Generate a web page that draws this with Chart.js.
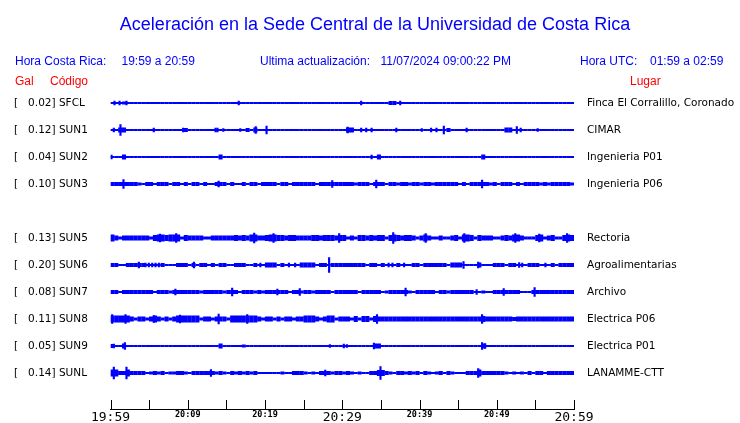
<!DOCTYPE html>
<html><head><meta charset="utf-8">
<script src="https://cdn.jsdelivr.net/npm/chart.js@4.4.1/dist/chart.umd.min.js"></script>
<style>html,body{margin:0;padding:0;background:#fff}#wrap{width:740px;height:423px;position:relative}</style>
</head><body><div id="wrap"><canvas id="c"></canvas></div>
<script>
// ---- data ----
const codes  = ['SFCL','SUN1','SUN2','SUN3','','SUN5','SUN6','SUN7','SUN8','SUN9','SUNL'];
const pga    = ['0.02','0.12','0.04','0.10','','0.13','0.20','0.08','0.11','0.05','0.14'];
const places = ['Finca El Corralillo, Coronado','CIMAR','Ingenieria P01','Ingenieria P06','','Rectoria','Agroalimentarias','Archivo','Electrica P06','Electrica P01','LANAMME-CTT'];
const timeLabels = ['19:59','','20:09','','20:19','','20:29','','20:39','','20:49','','20:59'];
const minutesSpan = 60;
const binMinutes = 0.5;

// envelope half-amplitudes per 30 s bin (counts)
const noise_SFCL = [1,1,1,1.5,1,1,1,1,1,1, 1,1,1,1,1,1,1,1,1,1,
 1,1,1,1,1,1,1,1,1,1, 1,1,1,1,1,1,1,1,1,1,
 1,1,1,1,1,1,1,1,1,1, 1,1,1,1,1,1,1,1,1,1,
 1,1,1,1,1,1,1,1,1,1, 1,1,2,2,1,1,1,1,1,1,
 1,1,1,1,1,1,1,1,1,1, 1,1,1,1,1,1,1,1,1,1,
 1,1,1,1,1,1,1,1,1,1, 1,1,1,1,1,1,1,1,1,1];
const noise_SUN1 = [1,1,2.5,2.5,1,1,1,1,1,1, 1,1,1,1,1,1,1,1,1,2,
 1,1,1,1,1,1,1,1,1,1, 1,1,1,1,1,2,1,2.5,1,1,
 1,1,1,1,1,1,1,1,1,1, 1,1,1,1,1,1,1,1,1,1,
 1,2.5,2.5,1,1,1,1,1,1,1, 1,1,1,1,1,1,1,1,1,1,
 1,1,1,1,1,1,1,2,1,1, 1,1,1,1,1,1,1,1,1,1,
 1,1,2.5,2.5,1,1,1,1,1,1, 1,1,1,1,1,1,1,1,1,1];
const noise_SUN2 = [1,1,1,2.5,1,1,1,1,1,1, 1,1,1,1,1,1,1,1,1,1,
 1,1,1,1,1,1,1,1,2.5,1, 1,1,1,1,1,1,1,1,1,1,
 1,1,1,1,1,1,1,1,1,1, 1,1,1,1,1,1,1,1,1,1,
 1,1,1,1,1,1,1,1,1,2.5, 1,1,1,1,1,1,1,1,1,1,
 1,1,1,1,1,1,1,1,1,1, 1,1,1,1,1,1,2.5,1,1,1,
 1,1,1,1,1,1,1,1,1,1, 1,1,1,1,1,1,1,1,1,1];
const noise_SUN3 = [2,2,2,2,2,2,2,1.5,1,2, 2,1,2,2,2,1,2,2,1,2,
 1,2,2,1,2,1,1,2,2,2, 1,2,1,1,2,1,2,2,1,2,
 2,2,2,1,2,2,1,2,2,2, 2,2,2,1,2,2,2,2,2,2,
 2,2,2,1.5,2,2,2,1,2,2, 2,1,2,2,1.5,2,2,1.5,2,2,
 1.5,2,2,1.5,2,2,2,2,2,2, 1,2,1,2,2,2,2,2,1.5,2,
 1,2,2,2,1,2,1,2,2,2, 2,1.5,2,1.5,2,2,2,2,2,1.5];
const noise_SUN5 = [3.5,2.5,1.5,2.5,2.5,2.5,2.5,2.5,2.5,2.5, 1.5,3,3.5,3.5,3,3.5,3.5,3.5,1.5,3,
 2.5,2.5,2.5,2.5,1.5,1.5,2.5,2.5,2.5,2.5, 2.5,2.5,3,2.5,3,2.5,3.5,3.5,2.5,2.5,
 3,3.5,3.5,3,3,2.5,3,3,2.5,2.5, 2.5,2.5,3,3,2.5,3,3,3,2.5,3,
 3,1.5,2.5,1.5,3,3,2.5,3,2.5,3, 3,1.5,3,3.5,3,2.5,3,3,2.5,1.5,
 2.5,3.5,2.5,1.5,1.5,2.5,1.5,1.5,2.5,3, 1.5,3.5,3.5,3,1.5,3,2.5,2.5,2.5,1.5,
 1.5,2.5,3,2.5,3.5,3.5,2.5,1.5,1.5,1.5, 3,3.5,1.5,2.5,3,1.5,1.5,3,3.5,3];
const noise_SUN6 = [2,2,1,1,2,2,2,2,2,1, 1,1,1,2,1,1,1,2,2,2,
 1,2,1,2,2,1,2,1,2,2, 1,1,2,2,2,1,1,2,1,1,
 2.5,2.5,2.5,1,2,1,1,1,1,2.5, 2.5,2.5,2.5,1,2,2,1,2,2,2,
 2,2,2,2,2,2,1,2,2,1, 2,1,1,1,2,1,1,1,2,2,
 1,2,2,2,2,2,2,1,2.5,2.5, 2.5,1,1,1,1,2.5,1,1,1,2,
 2,2,1,2,2,1,1,1,2,2, 2,1,1,1,2,1,2,2,2,2];
const noise_SUN7 = [2,2,1,2,2,2,2,2,2,2, 2,1,2,2,2,1.5,2,2,2,2,
 2,2,2,1.5,2,2,2,2,2,1.5, 2,2,2,1,2,2,2,1.5,2,1.5,
 2,2,2,2,2,2,1,2,2,1.5, 2,2,1.5,2,2,2,2,1,2,2,
 2,2,2,2,1,2,2,2,2,2, 1,1.5,2,2,2,2,2,1.5,1,2,
 2,2,2,2,1,2,2,1.5,2,2, 2,2,2,2,1,1,1.5,1,1,2,
 2,2,2,2,2,2,1,1,1,2, 2,2,2,2,2,2,2,2,2,2];
const noise_SUN8 = [3.5,3.5,3.5,3.5,3.5,2.5,1.5,2.5,2.5,1.5, 2.5,3.5,2.5,1.5,2.5,1.5,2.5,3.5,3.5,3.5,
 3.5,3.5,3.5,1.5,2.5,2.5,1.5,2.5,2.5,2.5, 1.5,3.5,3.5,3.5,3.5,3.5,3.5,3.5,2.5,1.5,
 2.5,2.5,1.5,2.5,1.5,2.5,2.5,1.5,2.5,2.5, 3.5,3.5,3.5,2.5,1.5,2.5,3.5,3.5,1.5,2.5,
 2.5,2.5,1.5,3,1.5,3,3,1.5,3,2.5, 2.5,2.5,2.5,2.5,2.5,2.5,2.5,2.5,2.5,2.5,
 2.5,2.5,2.5,2.5,2.5,2.5,2.5,2.5,2.5,2.5, 2.5,2.5,2.5,2.5,2.5,2.5,3,2.5,2.5,2.5,
 2.5,2.5,2.5,2.5,2,2.5,2.5,2.5,2.5,2.5, 2.5,2.5,2.5,2.5,2.5,2.5,2.5,2.5,2.5,2.5];
const noise_SUN9 = [2,1,1,2.5,1,1,1,1,1,1, 1,1,1,1,1,1,1,1,1,1,
 1,1,1,1,1,1,1,1,2.5,1, 1,1,1,1,1.5,1,1,1,1,1,
 1,1,1,1,1,1,1,1,1,1, 1,1,1,1,1,1,1,1,1,1,
 1,1,1,1,1,1,1,1,2.5,2.5, 1,1,1,1,1,1,1,1,1,1,
 1,1,1,1,1,1,1,1,1,1, 1,1,1,1,1,1,2.5,1,1,1,
 1,1,1,1,1,1,1,1,1,1, 1,1,1,1,1,1,1,1,1,1];
const noise_SUNL = [3.5,3.5,2,2,3.5,2,2,2,2,1, 1.5,2,1.5,2,1,1.5,1.5,2,2,1.5,
 1,2,2,2,2,2,2,1.5,2,1.5, 1,2,1.5,2,1.5,2,1.5,2,1,1,
 1,1,1,1,1.5,1,1,2,2,2, 1.5,1,1.5,1,2,2,2,1.5,2,2,
 1.5,2,1.5,1,1.5,1,1,2,2,3, 3,2,1.5,1,2,2,1.5,2,1.5,2,
 1,2,1.5,1,1.5,2,1,2,1.5,1, 1,1,2,2,2,3.5,2,2,2,2,
 2,2,1.5,1,1.5,1,1.5,1,2,1, 2,2,1,2,2,2,2,2,2,2];

// individual spikes: [minute after 19:59, half-amplitude]
const spikes_SFCL = [[0.52,2],[1.17,2],[2.07,2],[16.6,2],[32.45,2],[37.5,1.8]];
const spikes_SUN1 = [[0.43,2],[1.29,5.5],[5.6,2],[9.4,2],[13.6,2],[13.85,2],[14.6,1.5],[16.8,1.5],[18.8,3.5],[20.2,4],[30.7,3],[32.45,1.8],[33.1,1.8],[33.8,2],[37.0,2],[40.3,1.5],[41.5,2],[42.2,2],[43.15,4],[46.1,2],[52.6,3.5],[53.1,2],[55.3,1.5]];
const spikes_SUN2 = [[0.13,2],[33.8,2]];
const spikes_SUN3 = [[1.68,4.5],[14.0,3],[28.7,3.5],[34.4,4],[48.1,4]];
const spikes_SUN5 = [[6.4,4],[8.5,4.5],[18.6,5],[21.1,4.5],[29.6,4.5],[36.6,5.5],[40.8,4.5],[45.8,4.5],[52.4,4.5],[55.5,4],[59.1,4.5]];
const spikes_SUN6 = [[3.67,3],[4.53,2],[4.96,2],[5.4,2],[5.83,2],[6.26,2],[10.8,3],[19.4,2],[23.1,2],[23.9,2],[28.3,7.5],[36.0,2],[36.5,2],[38.0,2],[45.7,3.5],[47.6,3],[52.9,2.5],[53.3,2],[56.3,2]];
const spikes_SUN7 = [[8.4,3],[15.75,4],[21.6,3],[24.5,3.5],[38.2,4],[47.4,2.5],[50.9,3.5],[54.9,4.5]];
const spikes_SUN8 = [[0.22,4.5],[1.94,4.5],[5.6,3.5],[9.0,4],[14.0,5],[17.7,4.5],[34.5,4.5],[48.1,4.5]];
const spikes_SUN9 = [[0.43,2],[1.86,3.5],[28.4,1.5],[30.2,2],[30.6,1.5],[34.1,3],[48.1,3.5],[48.5,2.5]];
const spikes_SUNL = [[0.43,6],[2.07,6],[13.0,3.5],[27.8,3],[34.95,6.5],[47.6,4.5]];

const noiseByCode = {SFCL:noise_SFCL,SUN1:noise_SUN1,SUN2:noise_SUN2,SUN3:noise_SUN3,SUN5:noise_SUN5,SUN6:noise_SUN6,SUN7:noise_SUN7,SUN8:noise_SUN8,SUN9:noise_SUN9,SUNL:noise_SUNL};
const spikesByCode = {SFCL:spikes_SFCL,SUN1:spikes_SUN1,SUN2:spikes_SUN2,SUN3:spikes_SUN3,SUN5:spikes_SUN5,SUN6:spikes_SUN6,SUN7:spikes_SUN7,SUN8:spikes_SUN8,SUN9:spikes_SUN9,SUNL:spikes_SUNL};

// ---- chart ----
const BLUE = '#0000ff';
const ROW = 27; // counts between trace baselines
const datasets = [];
codes.forEach((c, i) => {
  if (!c) return;
  const base = i * ROW;
  datasets.push({
    xAxisID: 'x', yAxisID: 'y',
    data: noiseByCode[c].map((a, k) => ({x: (k + 0.5) * binMinutes, y: [base - a, base + a]})),
    backgroundColor: BLUE, borderWidth: 0, grouped: false,
    barPercentage: 1.06, categoryPercentage: 1
  });
  datasets.push({
    xAxisID: 'x2', yAxisID: 'y',
    data: spikesByCode[c].map(([t, a]) => ({x: t, y: [base - a, base + a]})),
    backgroundColor: BLUE, borderWidth: 0, grouped: false, barThickness: 1.5
  });
});

const yMin = -ROW, yMax = 11 * ROW + 9;
const rowTicks = s => { s.ticks = codes.map((c, i) => c ? {value: i * ROW} : null).filter(Boolean); };

const headerPlugin = {
  id: 'header',
  afterDraw(chart) {
    const ctx = chart.ctx;
    ctx.save();
    ctx.textBaseline = 'alphabetic';
    ctx.fillStyle = BLUE;
    ctx.textAlign = 'center';
    ctx.font = '18px "Liberation Sans", Arial, sans-serif';
    ctx.fillText('Aceleración en la Sede Central de la Universidad de Costa Rica', 375, 30);
    ctx.textAlign = 'left';
    ctx.font = '12px "Liberation Sans", Arial, sans-serif';
    ctx.fillText('Hora Costa Rica:', 15, 65);
    ctx.fillText('19:59 a 20:59', 121.5, 65);
    ctx.fillText('Ultima actualización:', 260, 65);
    ctx.fillText('11/07/2024 09:00:22 PM', 380.5, 65);
    ctx.fillText('Hora UTC:', 580, 65);
    ctx.fillText('01:59 a 02:59', 650, 65);
    ctx.fillStyle = '#ff0000';
    ctx.fillText('Gal', 15, 85);
    ctx.fillText('Código', 50, 85);
    ctx.fillText('Lugar', 630, 85);
    // x tick marks (pointing up from axis)
    const xs = chart.scales.x, bottom = chart.chartArea.bottom;
    ctx.strokeStyle = '#000'; ctx.lineWidth = 1;
    ctx.beginPath();
    xs.ticks.forEach(t => {
      const px = Math.round(xs.getPixelForValue(t.value)) + 0.5;
      ctx.moveTo(px, bottom); ctx.lineTo(px, bottom - 9);
    });
    ctx.stroke();
    ctx.restore();
  }
};

const noPadV = s => { s.paddingTop = 0; s.paddingBottom = 0; };

new Chart(document.getElementById('c'), {
  type: 'bar',
  data: {datasets},
  options: {
    responsive: true, maintainAspectRatio: false, animation: false, devicePixelRatio: 1,
    layout: {padding: {top: 76, left: 14, right: 0, bottom: 0}},
    plugins: {legend: {display: false}, tooltip: {enabled: false}, title: {display: false}},
    scales: {
      x: {
        type: 'linear', min: 0, max: minutesSpan, offset: false, position: 'bottom',
        grid: {display: false, drawTicks: false},
        border: {display: true, color: '#000', width: 1},
        afterBuildTicks: s => { s.ticks = timeLabels.map((_, k) => ({value: k * 5})); },
        afterFit: s => { s.height = 14; s.paddingLeft = 0; s.paddingRight = 0; },
        ticks: {
          autoSkip: false, maxRotation: 0, padding: 1, color: '#000',
          callback: v => timeLabels[Math.round(v / 5)],
          font: ctx => (ctx.index % 6 === 0)
            ? {family: '"DejaVu Sans Mono", monospace', size: 13}
            : {family: '"DejaVu Sans Mono", monospace', size: 8.5, weight: 'bold'}
        }
      },
      x2: {type: 'linear', min: 0, max: minutesSpan, offset: false, display: false},
      y: {
        type: 'linear', position: 'left', reverse: true, min: yMin, max: yMax,
        grid: {display: false, drawTicks: false}, border: {display: false},
        afterBuildTicks: rowTicks,
        afterFit: s => { s.width = 96.5; noPadV(s); },
        ticks: {
          autoSkip: false, crossAlign: 'far', padding: 0, color: '#000',
          font: {family: '"DejaVu Sans", sans-serif', size: 10.5},
          callback: v => { const i = Math.round(v / ROW); return '[   ' + pga[i] + '] ' + codes[i]; }
        }
      },
      y2: {
        type: 'linear', position: 'right', reverse: true, min: yMin, max: yMax,
        grid: {display: false, drawTicks: false}, border: {display: false},
        afterBuildTicks: rowTicks,
        afterFit: s => { s.width = 166; noPadV(s); },
        ticks: {
          autoSkip: false, padding: 13, color: '#000',
          font: {family: '"DejaVu Sans", sans-serif', size: 10.5},
          callback: v => places[Math.round(v / ROW)]
        }
      }
    }
  },
  plugins: [headerPlugin]
});
</script>
</body></html>
